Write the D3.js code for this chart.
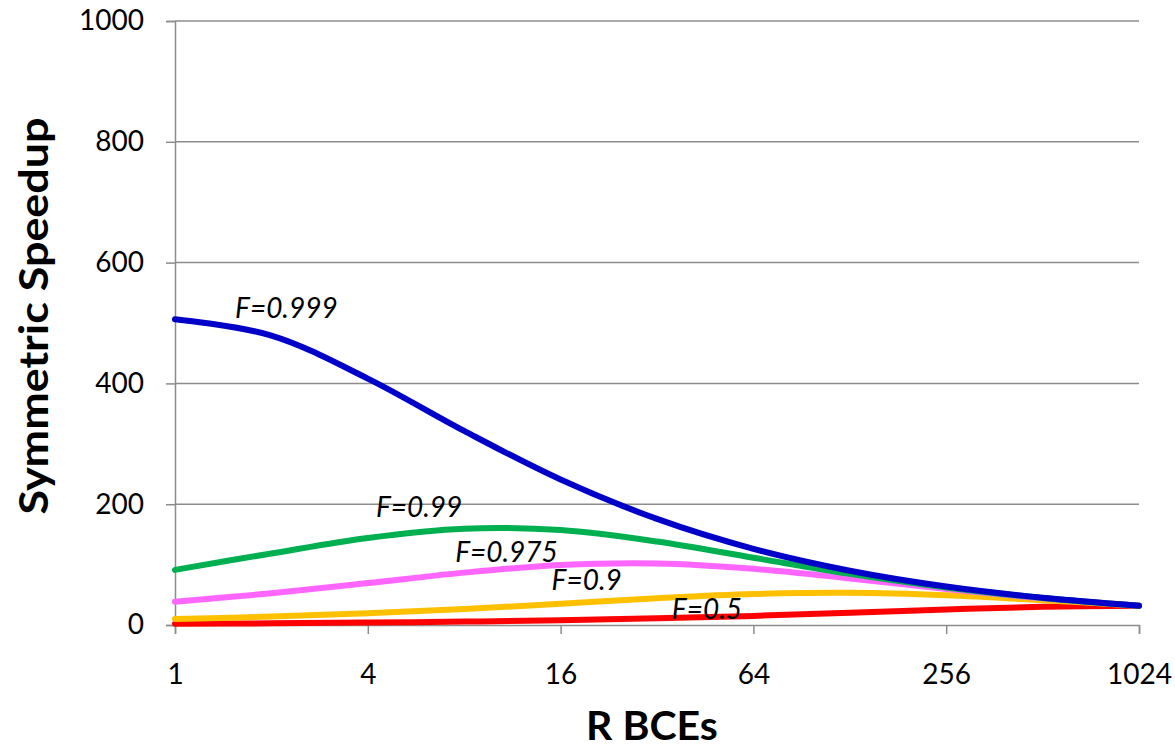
<!DOCTYPE html>
<html><head><meta charset="utf-8">
<script src="https://cdn.jsdelivr.net/npm/d3@7"></script>
<style>html,body{margin:0;padding:0;background:#fff;}</style>
</head><body>
<svg id="chart" width="1175" height="748"></svg>
<script>
const rValues = [1, 2, 4, 8, 16, 32, 64, 128, 256, 512, 1024];
const xTicks = [1, 4, 16, 64, 256, 1024];
const yTicks = [0, 200, 400, 600, 800, 1000];
const seriesNames = ["F=0.5", "F=0.9", "F=0.975", "F=0.99", "F=0.999"];
const seriesColors = ["#FF0000", "#FFC000", "#FF66FF", "#00B050", "#0000C8"];
const f05   = [2.0, 2.8, 4.0, 5.6, 7.9, 11.0, 15.1, 20.1, 25.6, 30.2, 32.0];
const f09   = [9.9, 13.9, 19.3, 26.4, 35.1, 44.2, 51.2, 53.2, 49.2, 41.1, 32.0];
const f0975 = [38.5, 52.6, 69.4, 86.7, 99.4, 102.0, 93.1, 77.0, 59.5, 44.2, 32.0];
const f099  = [91.2, 118.5, 144.2, 159.5, 157.1, 138.2, 111.3, 84.6, 62.1, 44.8, 32.0];
const f0999 = [506.2, 479.2, 408.0, 321.3, 240.8, 175.6, 126.1, 89.9, 63.8, 45.2, 32.0];
const seriesValues = [f05, f09, f0975, f099, f0999];
// label anchor points (data coords: r, speedup)
const labelR = [35.6, 15.0, 7.5, 4.24, 1.54];
const labelY = [10, 58, 104, 179, 508];

const svg = d3.select("#chart");
const margin = {left: 175, right: 1139, top: 21, bottom: 625};
const x = d3.scaleLog().base(2).domain([1, 1024]).range([margin.left, margin.right]);
const y = d3.scaleLinear().domain([0, 1000]).range([margin.bottom, margin.top]);
const font = "Lato, 'Open Sans', sans-serif";
const gridColor = "#8c8c8c";

// gridlines
svg.append("g").selectAll("line").data(yTicks.filter(d => d > 0)).join("line")
  .attr("x1", margin.left).attr("x2", margin.right)
  .attr("y1", d => y(d)).attr("y2", d => y(d))
  .attr("stroke", gridColor).attr("stroke-width", 1.5);

// y axis
const yAxis = svg.append("g").attr("transform", `translate(${margin.left},0)`)
  .call(d3.axisLeft(y).tickValues(yTicks).tickFormat(d3.format("d")).tickSize(9).tickPadding(22));
yAxis.select(".domain").attr("stroke", gridColor).attr("stroke-width", 1.5);
yAxis.selectAll(".tick line").attr("stroke", gridColor).attr("stroke-width", 1.5);
yAxis.selectAll("text").attr("font-family", font).attr("font-size", 28).attr("fill", "#000");

// x axis
const xAxis = svg.append("g").attr("transform", `translate(0,${margin.bottom})`)
  .call(d3.axisBottom(x).tickValues(xTicks).tickFormat(d3.format("d")).tickSize(9).tickPadding(30));
xAxis.select(".domain").attr("stroke", gridColor).attr("stroke-width", 1.5);
xAxis.selectAll(".tick line").attr("stroke", gridColor).attr("stroke-width", 1.5);
xAxis.selectAll("text").attr("font-family", font).attr("font-size", 28).attr("fill", "#000");

// lines
const line = d3.line().x((d, i) => x(rValues[i])).y(d => y(d)).curve(d3.curveCatmullRom.alpha(0.5));
svg.append("g").selectAll("path").data(seriesValues).join("path")
  .attr("d", d => line(d))
  .attr("fill", "none")
  .attr("stroke", (d, i) => seriesColors[i])
  .attr("stroke-width", 6)
  .attr("stroke-linecap", "round");

// series labels
svg.append("g").selectAll("text").data(seriesNames).join("text")
  .attr("x", (d, i) => x(labelR[i])).attr("y", (d, i) => y(labelY[i]))
  .attr("font-family", font).attr("font-style", "italic").attr("font-size", 28)
  .attr("fill", "#000").text(d => d);

// axis titles
svg.append("text").attr("x", 652).attr("y", 740).attr("text-anchor", "middle")
  .attr("font-family", font).attr("font-weight", "bold").attr("font-size", 41)
  .attr("fill", "#000").text("R BCEs");
svg.append("text").attr("transform", "translate(48,316) rotate(-90)").attr("text-anchor", "middle")
  .attr("font-family", font).attr("font-weight", "bold").attr("font-size", 41)
  .attr("textLength", 397).attr("lengthAdjust", "spacingAndGlyphs")
  .attr("fill", "#000").text("Symmetric Speedup");
</script>
</body></html>
